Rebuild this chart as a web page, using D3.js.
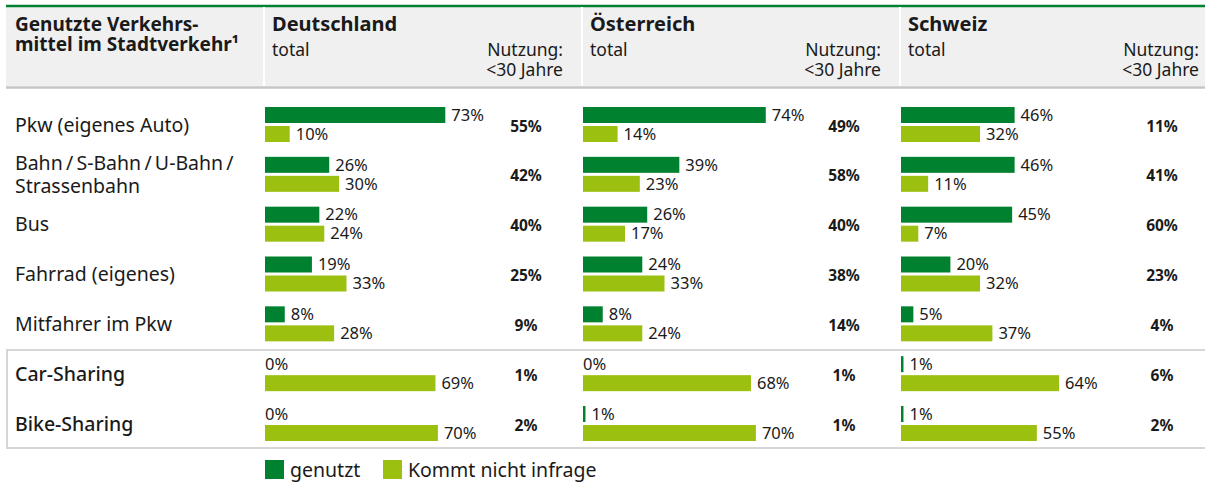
<!DOCTYPE html>
<html>
<head>
<meta charset="utf-8">
<script src="https://cdn.jsdelivr.net/npm/d3@7"></script>
<style>
  body { margin: 0; background: #fff; }
  svg { display: block; font-family: "Noto Sans", sans-serif; }
</style>
</head>
<body>
<svg></svg>
<script>
// data
const categories = ['Pkw (eigenes Auto)', 'Bahn\u2009/\u2009S-Bahn\u2009/\u2009U-Bahn\u2009/|Strassenbahn', 'Bus',
  'Fahrrad (eigenes)', 'Mitfahrer im Pkw', 'Car-Sharing', 'Bike-Sharing'];
const countries = ['Deutschland', 'Österreich', 'Schweiz'];
const used = [
  [73, 26, 22, 19, 8, 0, 0],
  [74, 39, 26, 24, 8, 0, 1],
  [46, 46, 45, 20, 5, 1, 1]
];
const notConsidered = [
  [10, 30, 24, 33, 28, 69, 70],
  [14, 23, 17, 33, 24, 68, 70],
  [32, 11, 7, 32, 37, 64, 55]
];
const under30 = [
  [55, 42, 40, 25, 9, 1, 2],
  [49, 58, 40, 38, 14, 1, 1],
  [11, 41, 60, 23, 4, 6, 2]
];
const legendLabels = ['genutzt', 'Kommt nicht infrage'];

const size = {w: 1205, h: 484};
const dark = '#00812f', light = '#9bc00f', ink = '#1a1a1a';
const svg = d3.select('svg').attr('width', size.w).attr('height', size.h);

// scales
const colX = d3.scaleBand().domain(countries).range([264, 264 + 3 * 318]);
const barX = d3.scaleLinear().domain([0, 100]).range([0, 247]);
const rowY = d3.scaleLinear().domain([0, 6]).range([107, 406]);
const barH = 16, gap = 3;

// ---------- header ----------
const head = svg.append('g');
head.append('rect').attr('x', 6).attr('y', 7).attr('width', size.w - 6).attr('height', 79).attr('fill', '#f0f0f0');
head.append('line').attr('x1', 6).attr('x2', size.w).attr('y1', 6).attr('y2', 6)
  .attr('stroke', dark).attr('stroke-width', 2.5);
head.append('line').attr('x1', 6).attr('x2', size.w).attr('y1', 87.5).attr('y2', 87.5)
  .attr('stroke', '#c6c6c6').attr('stroke-width', 2.5);
head.selectAll('line.sep').data(countries).join('line').classed('sep', true)
  .attr('x1', d => colX(d)).attr('x2', d => colX(d))
  .attr('y1', 7).attr('y2', 86).attr('stroke', '#fff').attr('stroke-width', 2);

const title = head.append('text').attr('font-weight', 700).attr('font-size', 19).attr('fill', ink);
title.append('tspan').attr('x', 15).attr('y', 31).text('Genutzte Verkehrs-');
title.append('tspan').attr('x', 15).attr('y', 51).text('mittel im Stadtverkehr¹');

const colHead = head.selectAll('g.col').data(countries).join('g').classed('col', true)
  .attr('transform', d => `translate(${colX(d)},0)`);
colHead.append('text').attr('x', 8).attr('y', 31).attr('font-weight', 700).attr('font-size', 20)
  .attr('fill', ink).text(d => d);
colHead.append('text').attr('x', 8).attr('y', 56).attr('font-size', 17.5).attr('fill', ink).text('total');
colHead.append('text').attr('x', 299).attr('y', 56).attr('font-size', 17.5).attr('fill', ink)
  .attr('text-anchor', 'end').text('Nutzung:');
colHead.append('text').attr('x', 299).attr('y', 76).attr('font-size', 17.5).attr('fill', ink)
  .attr('text-anchor', 'end').text('<30 Jahre');

// ---------- box round the sharing rows ----------
svg.append('rect').attr('x', 7).attr('y', 350).attr('width', size.w).attr('height', 98)
  .attr('fill', 'none').attr('stroke', '#d6d6d6').attr('stroke-width', 2);

// ---------- row labels ----------
const rowLabels = svg.selectAll('text.rowlabel').data(categories).join('text').classed('rowlabel', true)
  .attr('font-size', 19.5).attr('fill', ink)
  .attr('font-weight', (d, i) => i >= 5 ? 500 : 400);
rowLabels.each(function(d, i) {
  const lines = d.split('|');
  const cy = rowY(i) + (barH * 2 + gap) / 2;
  const t = d3.select(this);
  lines.forEach((l, k) => {
    t.append('tspan').attr('x', 15)
      .attr('y', cy + 7 + (k - (lines.length - 1) / 2) * 23)
      .text(l);
  });
});

// ---------- bars ----------
const fmt = v => v + '%';
countries.forEach((c, ci) => {
  const g = svg.append('g').attr('transform', `translate(${colX(c) + 1},0)`);

  // genutzt
  g.selectAll('rect.used').data(used[ci]).join('rect').classed('used', true)
    .attr('x', 0).attr('y', (d, i) => rowY(i))
    .attr('width', d => barX(d)).attr('height', barH).attr('fill', dark);
  g.selectAll('text.used').data(used[ci]).join('text').classed('used', true)
    .attr('x', d => d === 0 ? 0 : barX(d) + 6)
    .attr('y', (d, i) => rowY(i) + barH / 2).attr('dy', '0.35em')
    .attr('font-size', 16.5).attr('fill', ink).text(fmt);

  // kommt nicht infrage
  g.selectAll('rect.not').data(notConsidered[ci]).join('rect').classed('not', true)
    .attr('x', 0).attr('y', (d, i) => rowY(i) + barH + gap)
    .attr('width', d => barX(d)).attr('height', barH).attr('fill', light);
  g.selectAll('text.not').data(notConsidered[ci]).join('text').classed('not', true)
    .attr('x', d => barX(d) + 6)
    .attr('y', (d, i) => rowY(i) + barH + gap + barH / 2).attr('dy', '0.35em')
    .attr('font-size', 16.5).attr('fill', ink).text(fmt);

  // nutzung <30
  g.selectAll('text.u30').data(under30[ci]).join('text').classed('u30', true)
    .attr('x', 261).attr('text-anchor', 'middle')
    .attr('y', (d, i) => rowY(i) + barH + gap / 2 + 7)
    .attr('font-size', 15.5).attr('font-weight', 700).attr('fill', ink).text(fmt);
});

// ---------- legend ----------
const legX = [265, 383];
const leg = svg.selectAll('g.leg').data(legendLabels).join('g').classed('leg', true)
  .attr('transform', (d, i) => `translate(${legX[i]},460)`);
leg.append('rect').attr('width', 19).attr('height', 19).attr('fill', (d, i) => i === 0 ? dark : light);
leg.append('text').attr('x', 25).attr('y', 17).attr('font-size', 19.5).attr('fill', ink).text(d => d);
</script>
</body>
</html>
